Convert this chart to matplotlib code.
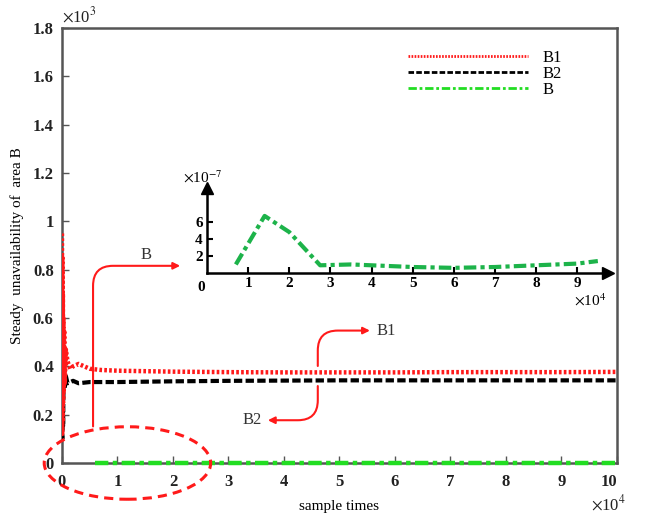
import matplotlib
matplotlib.use("Agg")
import matplotlib.pyplot as plt
from matplotlib.patches import Ellipse

plt.rcParams['font.family'] = ['Liberation Serif', 'DejaVu Serif']
plt.rcParams['mathtext.fontset'] = 'stix'

# ---- data (x in 1e4 samples, y in 1e-3) ----
b1_x = [0.0, 0.004, 0.008, 0.012, 0.016, 0.02, 0.025, 0.03, 0.04, 0.05, 0.07, 0.1, 0.15, 0.2, 0.3, 0.4, 0.5,
        0.7, 1.0, 1.5, 2, 3, 4, 5, 6, 7, 8, 9, 10]
b1_y = [0.95, 0.12, 0.85, 0.18, 0.70, 0.25, 0.60, 0.30, 0.55, 0.33, 0.47, 0.42, 0.39, 0.40, 0.41, 0.40, 0.39,
        0.385, 0.382, 0.38, 0.378, 0.376, 0.375, 0.375, 0.375, 0.376, 0.376, 0.376, 0.377]
b2_x = [0.0, 0.005, 0.01, 0.02, 0.03, 0.05, 0.07, 0.1, 0.2, 0.3, 0.5, 1, 2, 3, 5, 10]
b2_y = [0.50, 0.10, 0.45, 0.15, 0.38, 0.31, 0.36, 0.33, 0.34, 0.33, 0.335, 0.335, 0.338, 0.34, 0.342, 0.342]
b_x = [0.6, 1.4, 2.0, 2.75, 3.5, 4, 5, 6, 7, 8, 9, 10]
b_y = [0.0] * len(b_x)

# inset (x in 1e4, y in 1e-7)
ins_x = [0.7, 1.4, 2.0, 2.75, 3.5, 4, 5, 6, 7, 8, 9, 9.5]
ins_y = [1.0, 6.7, 4.8, 0.9, 1.0, 0.9, 0.7, 0.6, 0.7, 0.9, 1.1, 1.4]

xticks = list(range(0, 11))
yticks = [0, 0.2, 0.4, 0.6, 0.8, 1.0, 1.2, 1.4, 1.6, 1.8]
ytick_labels = ['0', '0.2', '0.4', '0.6', '0.8', '1', '1.2', '1.4', '1.6', '1.8']
ins_xticks = list(range(1, 10))
ins_yticks = [2, 4, 6]

RED = '#ff1a1a'
GREEN = '#22dd22'
GREEN2 = '#1db34a'
SPINE = '#555555'

fig = plt.figure(figsize=(6.49, 5.16), dpi=100)
ax = fig.add_axes([0.0955, 0.1027, 0.855, 0.843])

l1, = ax.plot(b1_x, b1_y, color=RED, lw=3.2, ls=(0, (0.6, 0.5)), label='B1', zorder=4)
l2, = ax.plot(b2_x, b2_y, color='black', lw=3.0, ls=(0, (2.0, 0.8)), label='B2', zorder=3)
l3, = ax.plot(b_x, b_y, color=GREEN, lw=3.2, ls=(0, (3, 1, 1, 1)), label='B', clip_on=False, zorder=5)

ax.set_xlim(0, 10)
ax.set_ylim(0, 1.8)
ax.set_xticks(xticks)
ax.set_xticklabels([str(t) for t in xticks])
ax.set_yticks(yticks)
ax.set_yticklabels(ytick_labels)
ax.tick_params(direction='in', length=5, width=1, colors=SPINE, labelcolor='#222222', labelsize=12, pad=6)
ax.tick_params(axis='x', pad=8)
for lab in ax.get_xticklabels() + ax.get_yticklabels():
    lab.set_fontweight('bold')
xl = ax.get_xticklabels()
xl[-1].set_horizontalalignment('right')
for s in ax.spines.values():
    s.set_color(SPINE)
    s.set_linewidth(1.8)

ax.set_ylabel('Steady  unavailability of  area B', fontsize=11, labelpad=6)
ax.set_xlabel('sample times', fontsize=11, labelpad=7)

ax.text(0.0, 1.005, r'$\times$10$^{3}$', transform=ax.transAxes, fontsize=12, ha='left', va='bottom', color='#222222')
ax.text(0.985, -0.094, r'$\times$10$^{4}$', transform=ax.transAxes, fontsize=12, ha='center', va='center', color='#222222')

leg = ax.legend(handles=[l1, l2, l3], loc='upper right', bbox_to_anchor=(0.928, 0.985), frameon=False,
                fontsize=12, handlelength=7.2, labelspacing=0.0, handletextpad=0.9)
for h in leg.get_lines():
    h.set_linewidth(2.0)

# annotations
arrow_kw = dict(arrowstyle='-|>', color=RED, lw=1.5, mutation_scale=10)
ax.annotate('', xy=(2.18, 0.816), xytext=(0.56, 0.14),
            arrowprops=dict(connectionstyle='angle,angleA=90,angleB=0,rad=20', **arrow_kw))
ax.text(1.51, 0.86, 'B', fontsize=12, ha='center', va='center', color='#333333')

ax.annotate('', xy=(5.6, 0.548), xytext=(4.61, 0.39),
            arrowprops=dict(connectionstyle='angle,angleA=90,angleB=0,rad=20', **arrow_kw))
ax.text(5.85, 0.548, 'B1', fontsize=12, ha='center', va='center', color='#333333')

ax.annotate('', xy=(3.66, 0.177), xytext=(4.61, 0.33),
            arrowprops=dict(connectionstyle='angle,angleA=-90,angleB=180,rad=20', **arrow_kw))
ax.text(3.42, 0.177, 'B2', fontsize=12, ha='center', va='center', color='#333333')

ell = Ellipse((1.18, 0.0), 3.0, 0.30, fill=False, ec=RED, lw=2.2, ls=(0, (3, 2)), clip_on=False, zorder=6)
ax.add_patch(ell)

# inset
ins = fig.add_axes([0.319, 0.471, 0.618, 0.165])
ins.patch.set_alpha(0)
ins.plot(ins_x, ins_y, color=GREEN2, lw=3.0, ls=(0, (3, 1, 1, 1)))
ins.set_xlim(0, 9.75)
ins.set_ylim(0, 10)
ins.set_xticks(ins_xticks)
ins.set_yticks(ins_yticks)
ins.tick_params(direction='in', length=4, width=1.5, labelsize=11, pad=3, colors='black')
for lab in ins.get_xticklabels() + ins.get_yticklabels():
    lab.set_fontweight('bold')
for side in ('top', 'right'):
    ins.spines[side].set_visible(False)
for side in ('left', 'bottom'):
    ins.spines[side].set_linewidth(1.8)
ins.plot(1, 0, '>k', ms=9, transform=ins.get_yaxis_transform(), clip_on=False)
ins.plot(0, 1, '^k', ms=9, transform=ins.get_xaxis_transform(), clip_on=False)
ins.text(-0.15, -1.0, '0', fontsize=11, fontweight='bold', ha='center', va='top')
ins.text(-0.06, 1.02, r'$\times$10$^{-7}$', transform=ins.transAxes, fontsize=11, ha='left', va='bottom')
ins.text(0.955, -0.23, r'$\times$10$^{4}$', transform=ins.transAxes, fontsize=11, ha='center', va='top')

fig.savefig('out.png', dpi=100)
